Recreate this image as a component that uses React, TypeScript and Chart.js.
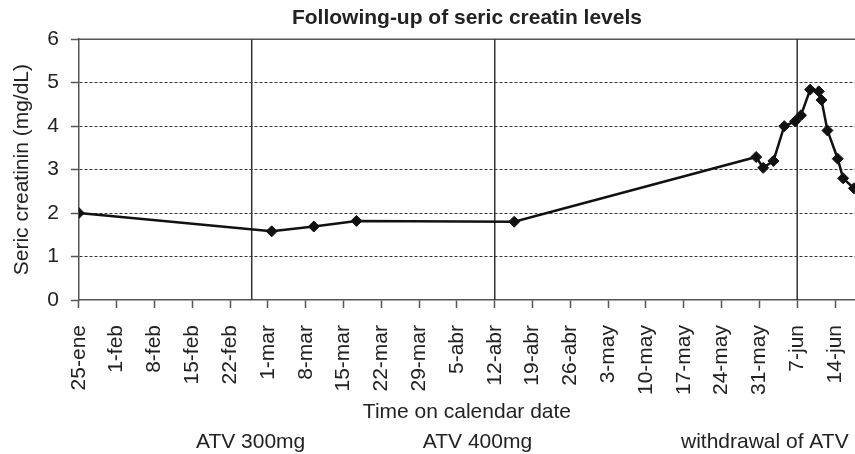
import React, { useEffect, useRef } from "react";
import { Chart, registerables } from "chart.js";

Chart.register(...registerables);

// Tick labels on the time axis (one every 7 days from 25-ene)
const tickLabels = [
  "25-ene", "1-feb", "8-feb", "15-feb", "22-feb", "1-mar", "8-mar", "15-mar",
  "22-mar", "29-mar", "5-abr", "12-abr", "19-abr", "26-abr", "3-may", "10-may",
  "17-may", "24-may", "31-may", "7-jun", "14-jun",
];
const tickStepDays = 7;

// Measurement days (days since 25-ene) and seric creatinine (mg/dL)
const measurementDays = [
  0, 35.7, 43.5, 51.4, 80.6, 125.4, 126.7, 128.6, 130.6, 132.6, 133.7, 135.4,
  137.0, 137.5, 138.6, 140.5, 141.5, 143.5,
];
const creatinine = [
  2.0, 1.58, 1.69, 1.82, 1.8, 3.29, 3.04, 3.2, 4.0, 4.11, 4.25, 4.84, 4.8, 4.6,
  3.9, 3.25, 2.8, 2.57,
];

const yTicks = [0, 1, 2, 3, 4, 5, 6];
const xMaxDay = 143.7;

// Treatment phase changes (vertical lines) and phase labels
const phaseChangeDays = [32, 77, 133];
const phaseLabels = ["ATV 300mg", "ATV 400mg", "withdrawal of ATV"];
const phaseLabelDays = [31.8, 73.8, 127];

const FONT = '"Liberation Sans", Arial, Helvetica, sans-serif';
const TEXT = "#222";
const AXIS = "#555";

const overlayPlugin = {
  id: "overlay",
  beforeDatasetsDraw(chart: any) {
    const { ctx, chartArea, scales } = chart;
    ctx.save();
    ctx.strokeStyle = AXIS;
    ctx.lineWidth = 1.5;
    ctx.beginPath();
    ctx.moveTo(chartArea.left, chartArea.top);
    ctx.lineTo(chartArea.right, chartArea.top);
    ctx.stroke();
    ctx.strokeStyle = "#333";
    ctx.lineWidth = 1.5;
    phaseChangeDays.forEach((d) => {
      const x = scales.x.getPixelForValue(d);
      ctx.beginPath();
      ctx.moveTo(x, chartArea.top);
      ctx.lineTo(x, chartArea.bottom);
      ctx.stroke();
    });
    ctx.restore();
  },
  afterDraw(chart: any) {
    const { ctx, scales } = chart;
    ctx.save();
    ctx.font = `21px ${FONT}`;
    ctx.fillStyle = TEXT;
    ctx.textAlign = "center";
    ctx.textBaseline = "middle";
    phaseLabels.forEach((t, i) => {
      ctx.fillText(t, scales.x.getPixelForValue(phaseLabelDays[i]), scales.x.bottom - 12);
    });
    ctx.restore();
  },
};

export default function App() {
  const canvasRef = useRef<HTMLCanvasElement | null>(null);

  useEffect(() => {
    if (!canvasRef.current) return;
    const chart = new Chart(canvasRef.current, {
      type: "line",
      data: {
        datasets: [
          {
            data: measurementDays.map((d, i) => ({ x: d, y: creatinine[i] })),
            borderColor: "#111",
            backgroundColor: "#111",
            borderWidth: 2.5,
            pointStyle: "rectRot",
            pointRadius: 5.5,
            pointBackgroundColor: "#111",
            pointBorderColor: "#111",
            pointBorderWidth: 1,
            tension: 0,
          },
        ],
      },
      options: {
        animation: false,
        responsive: true,
        maintainAspectRatio: false,
        layout: { padding: 0, autoPadding: false },
        plugins: {
          legend: { display: false },
          tooltip: { enabled: false },
          title: {
            display: true,
            text: "Following-up of seric creatin levels",
            fullSize: false,
            color: TEXT,
            font: { family: FONT, size: 21, weight: "bold" },
            padding: { top: 6, bottom: 8 },
          },
        },
        scales: {
          x: {
            type: "linear",
            min: 0,
            max: xMaxDay,
            afterBuildTicks: (scale: any) => {
              scale.ticks = tickLabels.map((_, i) => ({ value: i * tickStepDays }));
            },
            afterFit: (scale: any) => {
              scale.paddingLeft = 0;
              scale.paddingRight = 0;
              scale.height = 154;
            },
            ticks: {
              autoSkip: false,
              minRotation: 90,
              maxRotation: 90,
              padding: 17,
              color: TEXT,
              font: { family: FONT, size: 21 },
              callback: (_v: any, i: number) => tickLabels[i],
            },
            grid: {
              drawOnChartArea: false,
              drawTicks: true,
              tickLength: 8,
              tickColor: AXIS,
              tickWidth: 1.5,
            },
            border: { color: AXIS, width: 1.5 },
            title: {
              display: true,
              text: "Time on calendar date",
              color: TEXT,
              font: { family: FONT, size: 21 },
              padding: { top: 9, bottom: 29 },
            },
          },
          y: {
            min: 0,
            max: 6,
            afterBuildTicks: (scale: any) => {
              scale.ticks = yTicks.map((v) => ({ value: v }));
            },
            ticks: {
              padding: 12,
              color: TEXT,
              font: { family: FONT, size: 21 },
            },
            grid: {
              color: (c: any) =>
                c.tick && (c.tick.value === 0 || c.tick.value === 6) ? "rgba(0,0,0,0)" : "#333",
              lineWidth: 1,
              tickLength: 8,
              tickColor: AXIS,
              tickWidth: 1.5,
              tickBorderDash: [],
            },
            border: { color: AXIS, width: 1.5, dash: [3, 2] },
            title: {
              display: true,
              text: "Seric creatinin (mg/dL)",
              color: TEXT,
              font: { family: FONT, size: 21 },
              padding: { top: 10, bottom: 0 },
            },
          },
        },
      },
      plugins: [overlayPlugin],
    });
    return () => chart.destroy();
  }, []);

  return (
    <div style={{ position: "absolute", left: 0, top: 0, width: 855, height: 454 }}>
      <canvas ref={canvasRef} />
    </div>
  );
}
